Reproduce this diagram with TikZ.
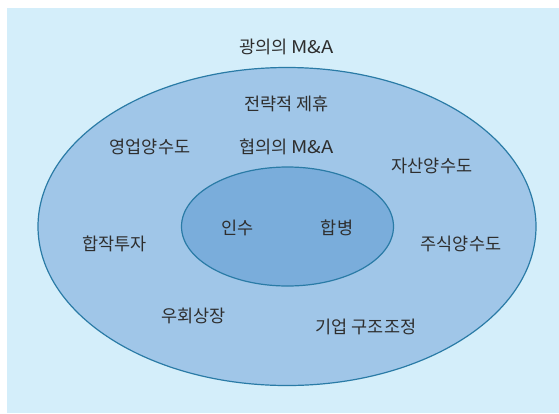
\documentclass[tikz,border=0pt]{standalone}
\usepackage{fontspec}
\setmainfont{Noto Sans CJK KR}
\definecolor{bgblue}{HTML}{D4EEFA}
\definecolor{outerfill}{HTML}{A0C6E8}
\definecolor{innerfill}{HTML}{7AADDB}
\definecolor{edgeblue}{HTML}{2A7BA6}
\definecolor{txt}{HTML}{2E2E2E}
\newcommand{\myMnA}{\scalebox{1.15}[1]{M\&A}}
\tikzset{
  lbl/.style={text=txt, font=\fontsize{17.5}{20}\selectfont, inner sep=0pt},
  ring/.style={draw=edgeblue, line width=1.2pt}
}
\begin{document}
\begin{tikzpicture}[x=1pt,y=-1pt]
\useasboundingbox (0,0) rectangle (559,413);
\fill[bgblue] (7,7.5) rectangle (559,413);
\path[ring, fill=outerfill] (287,226.5) ellipse [x radius=249, y radius=159];
\path[ring, fill=innerfill] (287.5,226.5) ellipse [x radius=106, y radius=59.5];
\node[lbl] (broad) at (286.5,46.5) {광의의 \myMnA};
\node[lbl] (alliance) at (286.5,104) {전략적 제휴};
\node[lbl] (narrow) at (286.5,147) {협의의 \myMnA};
\node[lbl] (biz) at (150,146.5) {영업양수도};
\node[lbl] (asset) at (432,166) {자산양수도};
\node[lbl] (jv) at (114.5,244) {합작투자};
\node[lbl] (stock) at (461,244) {주식양수도};
\node[lbl] (acq) at (237.5,228) {인수};
\node[lbl] (merge) at (337,228) {합병};
\node[lbl] (backdoor) at (193.5,316) {우회상장};
\node[lbl] (restr) at (366,326.5) {기업 구조조정};
\end{tikzpicture}
\end{document}
